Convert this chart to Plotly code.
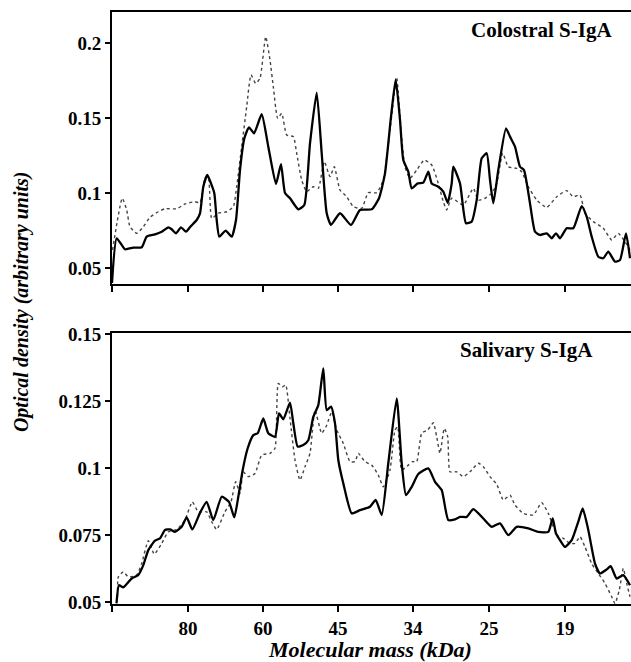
import plotly.graph_objects as go
from plotly.subplots import make_subplots

# scan position (arbitrary distance units along the gel lane)
tick_pos = [0, 76, 151, 226, 301, 377, 453]
tick_lab = ["", "80", "60", "45", "34", "25", "19"]

col_solid_x = [0, 4.7, 13, 21.3, 29.7, 34.7, 43, 49.7, 56.3, 59.7, 64, 69, 74, 79, 84.7, 88, 91.3, 95.3, 99,
               102.3, 104.7, 107.3, 113.7, 119.7, 124, 128, 132.3, 137, 142, 149.7, 156.3, 164, 169, 173, 178,
               186.3, 192.3, 198, 204.7, 209.7, 214.7, 219, 228, 239, 248, 259.7, 267, 273, 279, 283.7, 288,
               291.3, 296.3, 299.7, 305.7, 311.3, 316.3, 319.7, 326.3, 331.3, 335.7, 339.7, 341.3, 348, 354,
               359.7, 364.7, 369.7, 374.7, 378, 381.3, 386.3, 394, 398, 403, 408, 412, 418, 423, 428, 434.7,
               439.7, 444, 448, 454.7, 461.3, 469.7, 474.7, 479.7, 486.3, 491.3, 496.3, 503, 508, 514, 518]
col_solid_y = [0.040, 0.0698, 0.0625, 0.0636, 0.0638, 0.0709, 0.0724, 0.0742, 0.0771, 0.0758, 0.0731, 0.0771,
               0.0742, 0.078, 0.082, 0.0864, 0.1042, 0.112, 0.1064, 0.0998, 0.082, 0.0709, 0.0749, 0.0709, 0.082,
               0.1153, 0.1364, 0.1438, 0.1398, 0.1525, 0.1309, 0.106, 0.1193, 0.100, 0.0965, 0.0891, 0.092,
               0.1331, 0.1669, 0.1265, 0.0865, 0.0787, 0.0865, 0.0787, 0.0887, 0.0891, 0.0965, 0.1131, 0.1509,
               0.1758, 0.1487, 0.122, 0.1142, 0.1031, 0.1064, 0.1069, 0.1142, 0.1064, 0.1042, 0.1009, 0.0935,
               0.1064, 0.1175, 0.1064, 0.0798, 0.0809, 0.0953, 0.1231, 0.1265, 0.1087, 0.0931, 0.1153, 0.1431,
               0.1376, 0.1309, 0.1175, 0.1153, 0.0931, 0.0742, 0.072, 0.0731, 0.0698, 0.0731, 0.0698, 0.0765,
               0.0765, 0.0913, 0.0842, 0.0709, 0.0575, 0.0565, 0.0609, 0.0542, 0.0553, 0.0731, 0.0565]

col_dot_x = [0.5, 10.3, 14.7, 18, 24.7, 31.3, 38, 46.3, 53, 64.7, 73, 83, 88, 93, 96.3, 99.7, 106.3, 114.7,
             121.3, 124.7, 129.7, 134.7, 139, 143.7, 148, 153.7, 158, 161.3, 165.7, 169.7, 174.7, 181.3, 184.7,
             189.7, 194.7, 201.3, 206.3, 212.3, 218, 222.3, 228, 234.7, 241.3, 249.7, 256.3, 264.7, 271.3, 278,
             284.7, 289, 293, 298, 304.7, 312.3, 319.7, 326.3, 331.3, 334.7, 339.7, 351.3, 361.3, 366.3, 373,
             379.7, 384.7, 390.7, 396.3, 404.7, 409.7, 416.3, 424.7, 434.7, 444.7, 454.7, 461.3, 468, 473,
             481.3, 491.3, 499.7, 506.3, 513, 518]
col_dot_y = [0.062, 0.0965, 0.0887, 0.0775, 0.0731, 0.0775, 0.0838, 0.0875, 0.0895, 0.0895, 0.0927, 0.0942,
             0.0935, 0.1098, 0.1109, 0.0831, 0.0865, 0.0875, 0.0909, 0.1042, 0.1309, 0.1575, 0.1787, 0.1731,
             0.1765, 0.2042, 0.1887, 0.1709, 0.1498, 0.1531, 0.1387, 0.1376, 0.1265, 0.1087, 0.1009, 0.1042,
             0.1031, 0.1209, 0.1109, 0.1175, 0.102, 0.0975, 0.0909, 0.0898, 0.1002, 0.1002, 0.1087, 0.142,
             0.1765, 0.142, 0.1175, 0.1098, 0.1153, 0.122, 0.1187, 0.1064, 0.0942, 0.0887, 0.0965, 0.092,
             0.1031, 0.0953, 0.0965, 0.0998, 0.1064, 0.1265, 0.1175, 0.1164, 0.1142, 0.1042, 0.0953, 0.0904,
             0.0975, 0.1016, 0.0975, 0.0987, 0.0865, 0.0809, 0.0765, 0.0687, 0.0731, 0.0675, 0.062]

sal_solid_x = [4.5, 7, 11.3, 19.7, 26.3, 31.3, 36.3, 43, 48, 53, 58, 63, 69.7, 74.7, 80.3, 88, 94.7, 101.3,
               109.7, 117, 122.3, 126.3, 130.7, 135.7, 141.3, 145.7, 151.3, 156.3, 163, 167, 171.3, 178, 181.3,
               185.7, 191.3, 196.3, 201.3, 206.3, 211.3, 214.7, 219, 223, 226.3, 231.3, 239.7, 248, 258, 263.7,
               269.7, 276.3, 284.7, 289.7, 294, 299.7, 306.3, 316.3, 323, 329.7, 336.3, 343, 348, 354.7, 361.3,
               371.3, 379.7, 388, 396.3, 404.7, 416.3, 426.3, 436.3, 440.7, 444, 448, 453, 459.7, 466.3, 470.7,
               476.3, 483, 488, 494.7, 498.7, 504.7, 511.3, 518]
sal_solid_y = [0.0495, 0.0563, 0.0555, 0.0588, 0.0601, 0.0638, 0.0694, 0.0729, 0.0738, 0.0769, 0.0771, 0.0762,
               0.0781, 0.0816, 0.0771, 0.0833, 0.0874, 0.0806, 0.0893, 0.0874, 0.0816, 0.0893, 0.0993, 0.1074,
               0.1123, 0.113, 0.1185, 0.113, 0.1117, 0.1204, 0.1182, 0.1244, 0.1167, 0.108, 0.1086, 0.1104,
               0.1191, 0.1235, 0.1372, 0.1216, 0.1229, 0.1167, 0.103, 0.0943, 0.0831, 0.0843, 0.0856, 0.0881,
               0.0825, 0.1018, 0.126, 0.1018, 0.0899, 0.093, 0.0978, 0.0999, 0.0949, 0.0918, 0.0806, 0.0809,
               0.0818, 0.0818, 0.0847, 0.0812, 0.0781, 0.0794, 0.075, 0.0781, 0.0775, 0.0762, 0.0762, 0.0812,
               0.0756, 0.0731, 0.0706, 0.0731, 0.08, 0.085, 0.0769, 0.0644, 0.0607, 0.0622, 0.0634, 0.0588,
               0.0601, 0.0563]

sal_dot_x = [5.5, 6.3, 11.3, 16.3, 24.7, 29.7, 36.3, 42.3, 49.7, 56.3, 64.7, 73, 80.3, 86.3, 94.7, 99.7, 104.7,
             113, 119, 123.7, 128, 131.3, 136.3, 143, 149.7, 158, 163, 166.3, 170.3, 173.7, 178, 183, 188, 193,
             198, 203, 209.7, 214.7, 219.7, 224.7, 231.3, 238, 243, 246.3, 253, 259.7, 266.3, 271.3, 278, 283,
             285.7, 289.7, 296.3, 300.3, 304.7, 309.7, 315.7, 321.3, 324.7, 328, 332.3, 335.7, 338, 344.7, 351.3,
             358, 366.3, 371.3, 378, 384.7, 391.3, 398, 403, 411.3, 421.3, 429.7, 436.3, 441.3, 446.3, 451.3,
             458, 463, 468, 473, 479.7, 486.3, 493, 499.7, 503, 507.3, 511.3, 514.7, 518]
sal_dot_y = [0.052, 0.0594, 0.0613, 0.0594, 0.0601, 0.0644, 0.0729, 0.0679, 0.0719, 0.0762, 0.0771, 0.0806,
             0.0874, 0.0837, 0.0837, 0.08, 0.0771, 0.0837, 0.0874, 0.0949, 0.0906, 0.0986, 0.0968, 0.098,
             0.1049, 0.1055, 0.1074, 0.1316, 0.1303, 0.131, 0.1185, 0.103, 0.0955, 0.1005, 0.1055, 0.1216,
             0.113, 0.116, 0.121, 0.1142, 0.1092, 0.1024, 0.1024, 0.1055, 0.1024, 0.1011, 0.0974, 0.093,
             0.0993, 0.1142, 0.1154, 0.0993, 0.1011, 0.1024, 0.1024, 0.113, 0.1142, 0.1169, 0.1117, 0.1055,
             0.1148, 0.1117, 0.0986, 0.0986, 0.0968, 0.0986, 0.1018, 0.1005, 0.0968, 0.094, 0.0881, 0.0899,
             0.0862, 0.0831, 0.0825, 0.0871, 0.0831, 0.0781, 0.0746, 0.0738, 0.0719, 0.0719, 0.0744, 0.0706,
             0.0644, 0.0607, 0.057, 0.052, 0.0495, 0.0545, 0.0626, 0.057, 0.052]

top_ticks = [0.05, 0.1, 0.15, 0.2]
top_labels = ["0.05", "0.1", "0.15", "0.2"]
bot_ticks = [0.05, 0.075, 0.1, 0.125, 0.15]
bot_labels = ["0.05", "0.075", "0.1", "0.125", "0.15"]

SERIF = "Liberation Serif"

fig = make_subplots(rows=2, cols=1, vertical_spacing=0.0822)
fig.update_layout(yaxis=dict(domain=[0.5405, 1.0]), yaxis2=dict(domain=[0.0, 0.4578]))

solid = dict(color="black", width=2.3, shape="spline", smoothing=0.5)
dotted = dict(color="#444444", width=1.4, dash="dot", shape="spline", smoothing=0.5)

fig.add_trace(go.Scatter(x=col_dot_x, y=col_dot_y, mode="lines", line=dotted), row=1, col=1)
fig.add_trace(go.Scatter(x=col_solid_x, y=col_solid_y, mode="lines", line=solid), row=1, col=1)
fig.add_trace(go.Scatter(x=sal_dot_x, y=sal_dot_y, mode="lines", line=dotted), row=2, col=1)
fig.add_trace(go.Scatter(x=sal_solid_x, y=sal_solid_y, mode="lines", line=solid), row=2, col=1)

tickfont = dict(family=SERIF, size=19, color="black", weight="bold")
xcommon = dict(range=[0, 519], tickmode="array", tickvals=tick_pos, showline=True, linecolor="black",
               linewidth=2, mirror=True, ticks="outside", ticklen=6, tickwidth=2, tickcolor="black",
               showgrid=False, zeroline=False, tickfont=tickfont)
fig.update_xaxes(**xcommon)
fig.update_xaxes(ticktext=[""] * len(tick_pos), row=1, col=1)
fig.update_xaxes(ticktext=tick_lab, row=2, col=1)

ycommon = dict(showline=True, linecolor="black", linewidth=2, ticks="outside", ticklen=5, tickwidth=2,
               tickcolor="black", showgrid=False, zeroline=False, tickfont=tickfont, tickmode="array")
fig.update_yaxes(**ycommon)
fig.update_yaxes(range=[0.0393, 0.2207], tickvals=top_ticks, ticktext=top_labels, row=1, col=1)
fig.update_yaxes(range=[0.0493, 0.1504], tickvals=bot_ticks, ticktext=bot_labels, row=2, col=1)

fig.add_annotation(text="Colostral S-IgA", x=502, y=0.2087, xref="x", yref="y", xanchor="right",
                   yanchor="middle", showarrow=False,
                   font=dict(family=SERIF, size=21, color="black", weight="bold"))
fig.add_annotation(text="Salivary S-IgA", x=483, y=0.144, xref="x2", yref="y2", xanchor="right",
                   yanchor="middle", showarrow=False,
                   font=dict(family=SERIF, size=21, color="black", weight="bold"))
fig.add_annotation(text="Optical density (arbitrary units)", x=-0.1753, y=0.51, xref="paper", yref="paper",
                   textangle=-90, xanchor="center", yanchor="middle", showarrow=False,
                   font=dict(family=SERIF, size=20, color="black", weight="bold", style="italic"))
fig.add_annotation(text="Molecular mass (kDa)", x=0.497, y=-0.0777, xref="paper", yref="paper",
                   xanchor="center", yanchor="middle", showarrow=False,
                   font=dict(family=SERIF, size=22, color="black", weight="bold", style="italic"))

fig.update_layout(width=631, height=662, margin=dict(l=112, r=0, t=12, b=58),
                  paper_bgcolor="white", plot_bgcolor="white", showlegend=False)

fig.write_html("out.html")
